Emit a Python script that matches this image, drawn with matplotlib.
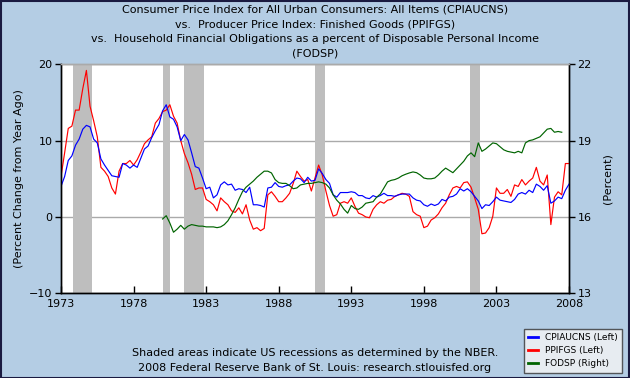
import matplotlib
matplotlib.use('Agg')
import matplotlib.pyplot as plt
import numpy as np
from matplotlib.patches import Rectangle
from matplotlib.lines import Line2D

# ---------------- data (quarterly, percent) ----------------
cpi_start = 1973.0
cpi = [
    4.0, 5.3, 7.4, 8.0,
    9.4, 10.2, 11.5, 12.0,
    11.8, 10.2, 9.7, 7.6,
    6.8, 6.1, 5.4, 5.3,
    5.2, 7.0, 6.8, 6.4,
    6.8, 6.5, 7.7, 8.9,
    9.3, 10.4, 11.3, 12.1,
    13.9, 14.7, 13.1, 12.8,
    11.8, 10.0, 10.8, 10.1,
    8.4, 6.6, 6.4, 5.1,
    3.7, 3.9, 2.5, 2.9,
    4.2, 4.6, 4.2, 4.3,
    3.5, 3.7, 3.6, 3.2,
    3.9, 1.6, 1.6, 1.5,
    1.3, 3.8, 3.9, 4.5,
    4.0, 3.9, 4.1, 4.2,
    4.7, 5.1, 5.0, 4.5,
    5.2, 4.7, 4.8, 6.3,
    5.7, 4.9, 4.4, 2.9,
    2.6, 3.2, 3.2, 3.2,
    3.3, 3.2, 2.8, 2.8,
    2.5, 2.4, 2.8, 2.6,
    2.8, 3.1, 2.8, 2.8,
    2.7, 2.9, 3.0, 3.0,
    3.0, 2.5, 2.2, 2.1,
    1.6, 1.4, 1.7, 1.5,
    1.7, 2.3, 2.1, 2.6,
    2.7, 3.0, 3.7, 3.4,
    3.7, 3.3, 2.7, 2.1,
    1.1, 1.6, 1.5, 2.0,
    2.6, 2.2, 2.1, 2.0,
    1.9, 2.3, 3.0, 3.2,
    3.0, 3.5, 3.2, 4.3,
    4.0, 3.5, 4.1, 1.8,
    2.1, 2.6, 2.4, 3.5,
    4.3,
]

ppi_start = 1973.0
ppi = [
    5.3, 8.4, 11.6, 11.9,
    14.0, 14.0, 16.8, 19.2,
    14.5, 12.6, 10.5, 6.5,
    6.0, 5.3, 3.8, 3.0,
    6.0, 7.0, 7.0, 7.4,
    6.8, 7.5, 8.5, 9.6,
    10.1, 10.5, 12.3, 12.9,
    13.8, 14.0, 14.7, 13.2,
    12.3, 10.0, 8.3, 7.1,
    5.6, 3.6, 3.8, 3.8,
    2.3, 2.0, 1.6, 0.8,
    2.5, 2.0, 1.6, 0.8,
    0.6, 1.2, 0.4, 1.6,
    -0.4, -1.6, -1.4, -1.8,
    -1.5, 2.9, 3.3, 2.7,
    2.0, 2.0, 2.5, 3.1,
    4.4, 6.0, 5.3, 4.7,
    4.9, 3.4, 5.1, 6.8,
    5.5, 3.4, 1.5, 0.1,
    0.3, 1.8, 2.0, 1.8,
    2.5, 1.4, 0.5, 0.3,
    0.0, -0.1, 1.0, 1.6,
    2.0, 1.8, 2.2, 2.3,
    2.7, 2.9, 3.1, 3.0,
    2.7, 0.7, 0.3, 0.1,
    -1.4, -1.2, -0.4, -0.1,
    0.4, 1.2, 1.8, 2.9,
    3.8, 4.0, 3.8, 4.5,
    4.6, 3.9, 2.5, 1.0,
    -2.2, -2.1, -1.4, 0.1,
    3.8, 3.1, 3.1, 3.6,
    2.7, 4.2, 4.0, 4.9,
    4.2, 4.7, 5.1, 6.5,
    4.7, 4.2, 5.5, -1.0,
    2.6, 3.3, 2.9, 7.0,
    7.0,
]

fodsp_start = 1980.0
fodsp = [
    15.92, 16.05, 15.76, 15.40,
    15.52, 15.67, 15.52, 15.64,
    15.70, 15.67, 15.64, 15.64,
    15.61, 15.61, 15.61, 15.58,
    15.61, 15.70, 15.85, 16.09,
    16.36, 16.69, 16.99, 17.17,
    17.29, 17.41, 17.56, 17.68,
    17.80, 17.80, 17.73, 17.47,
    17.35, 17.32, 17.32, 17.23,
    17.11, 17.14, 17.26, 17.29,
    17.32, 17.32, 17.35, 17.38,
    17.35, 17.29, 17.14, 16.87,
    16.66, 16.51, 16.30, 16.15,
    16.45, 16.33, 16.30, 16.39,
    16.54, 16.57, 16.60, 16.78,
    16.90, 17.14, 17.38, 17.44,
    17.47, 17.53, 17.62, 17.68,
    17.73, 17.77, 17.74, 17.65,
    17.53, 17.50, 17.50, 17.53,
    17.65, 17.80, 17.92, 17.83,
    17.74, 17.89, 18.04, 18.19,
    18.40, 18.52, 18.37, 18.91,
    18.58, 18.67, 18.79, 18.91,
    18.88, 18.76, 18.64, 18.58,
    18.55, 18.52, 18.58, 18.52,
    18.91, 19.00, 19.03, 19.09,
    19.15, 19.30, 19.45, 19.48,
    19.33, 19.36, 19.33,
]

recessions = [(1973.83, 1975.15), (1980.0, 1980.5), (1981.5, 1982.87),
              (1990.5, 1991.17), (2001.2, 2001.87)]

x_ticks = [1973, 1978, 1983, 1988, 1993, 1998, 2003, 2008]
left_ticks = [-10, 0, 10, 20]
right_ticks = [13, 16, 19, 22]

title_lines = [
    "Consumer Price Index for All Urban Consumers: All Items (CPIAUCNS)",
    "vs.  Producer Price Index: Finished Goods (PPIFGS)",
    "vs.  Household Financial Obligations as a percent of Disposable Personal Income",
    "(FODSP)",
]
legend_labels = ["CPIAUCNS (Left)", "PPIFGS (Left)", "FODSP (Right)"]

# ---------------- figure ----------------
BG = '#B4CDE4'
W, H = 630, 378
fig = plt.figure(figsize=(W / 100, H / 100), dpi=100, facecolor=BG)

x0, x1, yt, yb = 61, 569, 64.3, 293.3
ax = fig.add_axes([x0 / W, 1 - yb / H, (x1 - x0) / W, (yb - yt) / H])
ax.set_facecolor('white')

t_cpi = cpi_start + 0.25 * np.arange(len(cpi))
t_ppi = ppi_start + 0.25 * np.arange(len(ppi))
t_fod = fodsp_start + 0.25 * np.arange(len(fodsp))

for a, b in recessions:
    ax.axvspan(a, b, color='#BEBEBE', lw=0, zorder=1)

ax.set_xlim(1973, 2008)
ax.set_ylim(-10, 20)
ax.set_yticks(left_ticks)
ax.set_xticks(x_ticks)
ax.yaxis.grid(True, color='#AAAAAA', lw=1.0, zorder=0.5)
ax.set_axisbelow(True)

LW = 0.85
ax.plot(t_ppi, ppi, color='#FF0000', lw=LW, zorder=3)
ax.plot(t_cpi, cpi, color='#0000FF', lw=LW, zorder=4)

ax2 = ax.twinx()
ax2.plot(t_fod, fodsp, color='#006400', lw=LW, zorder=3)
ax2.set_ylim(13, 22)
ax2.set_yticks(right_ticks)
ax2.set_xlim(1973, 2008)

for a_ in (ax, ax2):
    for s in ('left', 'right', 'bottom'):
        a_.spines[s].set_color('black')
        a_.spines[s].set_linewidth(1.0)
    a_.spines['top'].set_color('#AAAAAA')
    a_.spines['top'].set_linewidth(1.0)

ax.tick_params(axis='y', direction='out', length=4, width=1, labelsize=8, pad=2, colors='black')
ax.tick_params(axis='x', direction='in', length=5, width=1, labelsize=8, pad=4)
ax2.tick_params(axis='y', direction='out', length=4, width=1, labelsize=8, pad=2)

ax.set_ylabel("(Percent Change from Year Ago)", fontsize=8, labelpad=4)
ax2.set_ylabel("(Percent)", fontsize=8, labelpad=8)

cx = (x0 + x1) / 2 / W
for i, line in enumerate(title_lines):
    fig.text(cx, 1 - (9.5 + 14.7 * i) / H, line, ha='center', va='center', fontsize=8)

fig.text(cx, 1 - 353 / H, "Shaded areas indicate US recessions as determined by the NBER.",
         ha='center', va='center', fontsize=8)
fig.text(cx, 1 - 368 / H, "2008 Federal Reserve Bank of St. Louis: research.stlouisfed.org",
         ha='center', va='center', fontsize=8)

handles = [Line2D([], [], color=c, lw=2) for c in ('#0000FF', '#FF0000', '#006400')]
leg = fig.legend(handles, legend_labels, loc='lower right',
                 bbox_to_anchor=(622 / W, 5 / H), fontsize=6.5, frameon=True,
                 fancybox=False, handlelength=1.0, handletextpad=0.8,
                 borderpad=0.5, labelspacing=0.45, borderaxespad=0)
leg.get_frame().set_facecolor('#F5F5F5')
leg.get_frame().set_edgecolor('#333333')
leg.get_frame().set_linewidth(1.0)

fig.patches.append(Rectangle((0.5 / W, 0.5 / H), 1 - 1.5 / W, 1 - 1.5 / H,
                             transform=fig.transFigure, fill=False,
                             edgecolor='#1A1A40', lw=1.5))

fig.savefig('out.png', dpi=100, facecolor=BG)
